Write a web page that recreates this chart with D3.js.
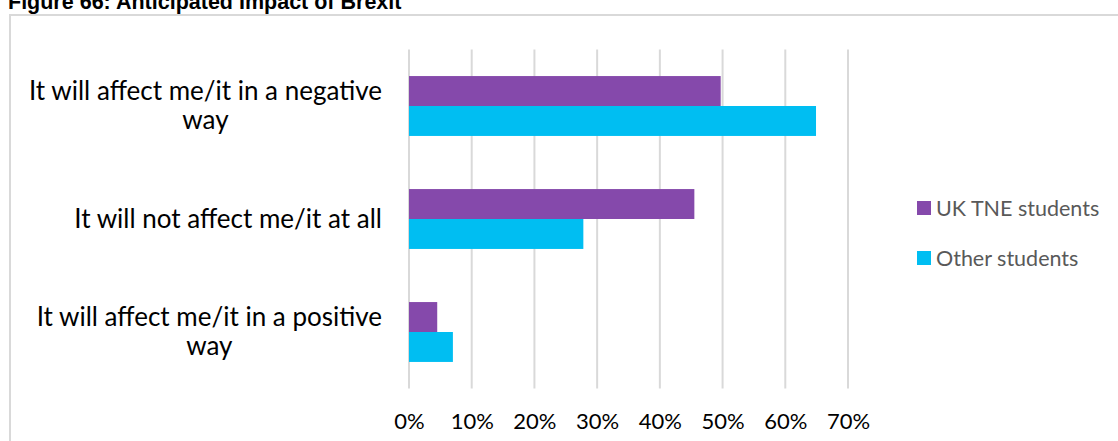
<!DOCTYPE html>
<html>
<head>
<meta charset="utf-8">
<script src="https://cdn.jsdelivr.net/npm/d3@7"></script>
<style>
  body { margin: 0; background: #fff; }
  svg { display: block; }
</style>
</head>
<body>
<svg id="svg" width="1118" height="441"></svg>
<script>
// data
const categories = [
  ["It will affect me/it in a negative", "way"],
  ["It will not affect me/it at all"],
  ["It will affect me/it in a positive", "way"]
];
const seriesNames = ["UK TNE students", "Other students"];
const ukTne = [0.497, 0.455, 0.045];
const otherStudents = [0.649, 0.278, 0.070];
const xTicks = [0, 0.1, 0.2, 0.3, 0.4, 0.5, 0.6, 0.7];
const colors = ["#8549AB", "#00BEF2"];

const svg = d3.select("svg#svg");
const labelFont = "Lato, 'Open Sans', sans-serif";

// title, partly cut by the top edge like in the source page
svg.append("text")
  .attr("x", 8).attr("y", 8.5)
  .attr("font-family", "'Liberation Sans', Arial, sans-serif")
  .attr("font-weight", "bold").attr("font-size", 21.5)
  .attr("fill", "#000")
  .text("Figure 66: Anticipated Impact of Brexit");

// chart frame (runs off right and bottom)
svg.append("rect")
  .attr("x", 10).attr("y", 15)
  .attr("width", 1120).attr("height", 440)
  .attr("fill", "none").attr("stroke", "#d9d9d9").attr("stroke-width", 2);

const plot = {left: 409, right: 848, top: 49.5, bottom: 388.5};

const x = d3.scaleLinear().domain([0, 0.7]).range([plot.left, plot.right]);
const y = d3.scaleBand().domain(d3.range(categories.length))
  .range([plot.top, plot.bottom]).paddingInner(0.47).paddingOuter(0.235);
const ySub = d3.scaleBand().domain(d3.range(seriesNames.length))
  .range([0, y.bandwidth()]);

// gridlines
svg.append("g").selectAll("line").data(xTicks).join("line")
  .attr("x1", d => x(d)).attr("x2", d => x(d))
  .attr("y1", plot.top).attr("y2", plot.bottom)
  .attr("stroke", "#d9d9d9").attr("stroke-width", 2);

// bars
const series = [ukTne, otherStudents];
series.forEach((vals, si) => {
  svg.append("g").selectAll("rect").data(vals).join("rect")
    .attr("x", x(0))
    .attr("y", (d, i) => y(i) + ySub(si))
    .attr("width", d => x(d) - x(0))
    .attr("height", ySub.bandwidth())
    .attr("fill", colors[si]);
});

// x axis labels
const xAxis = d3.axisBottom(x).tickValues(xTicks).tickFormat(d3.format(".0%")).tickSize(0).tickPadding(0);
const gx = svg.append("g").attr("transform", `translate(0,${plot.bottom + 25})`).call(xAxis);
gx.select(".domain").remove();
gx.selectAll("text")
  .attr("font-family", labelFont).attr("font-size", 22).attr("fill", "#000");

// category labels
const catG = svg.append("g");
categories.forEach((lines, i) => {
  const cy = y(i) + y.bandwidth() / 2;
  const lh = 29;
  const t = catG.append("text")
    .attr("font-family", labelFont).attr("font-size", 26).attr("fill", "#000")
    .attr("text-anchor", "middle");
  lines.forEach((ln, k) => {
    t.append("tspan")
      .attr("x", 0)
      .attr("y", cy + (k - (lines.length - 1) / 2) * lh)
      .attr("dy", "0.33em")
      .text(ln);
  });
  // right edge of the widest line sits at 382
  const w = t.node().getBBox().width;
  t.attr("transform", `translate(${382 - w / 2},0)`);
});

// legend
const leg = svg.append("g").attr("transform", "translate(917,201)");
const li = leg.selectAll("g").data(seriesNames).join("g")
  .attr("transform", (d, i) => `translate(0,${i * 50})`);
li.append("rect").attr("width", 14).attr("height", 14).attr("fill", (d, i) => colors[i]);
li.append("text").attr("x", 19).attr("y", 7).attr("dy", "0.35em")
  .attr("font-family", labelFont).attr("font-size", 21.5).attr("fill", "#595959")
  .text(d => d);
</script>
</body>
</html>
